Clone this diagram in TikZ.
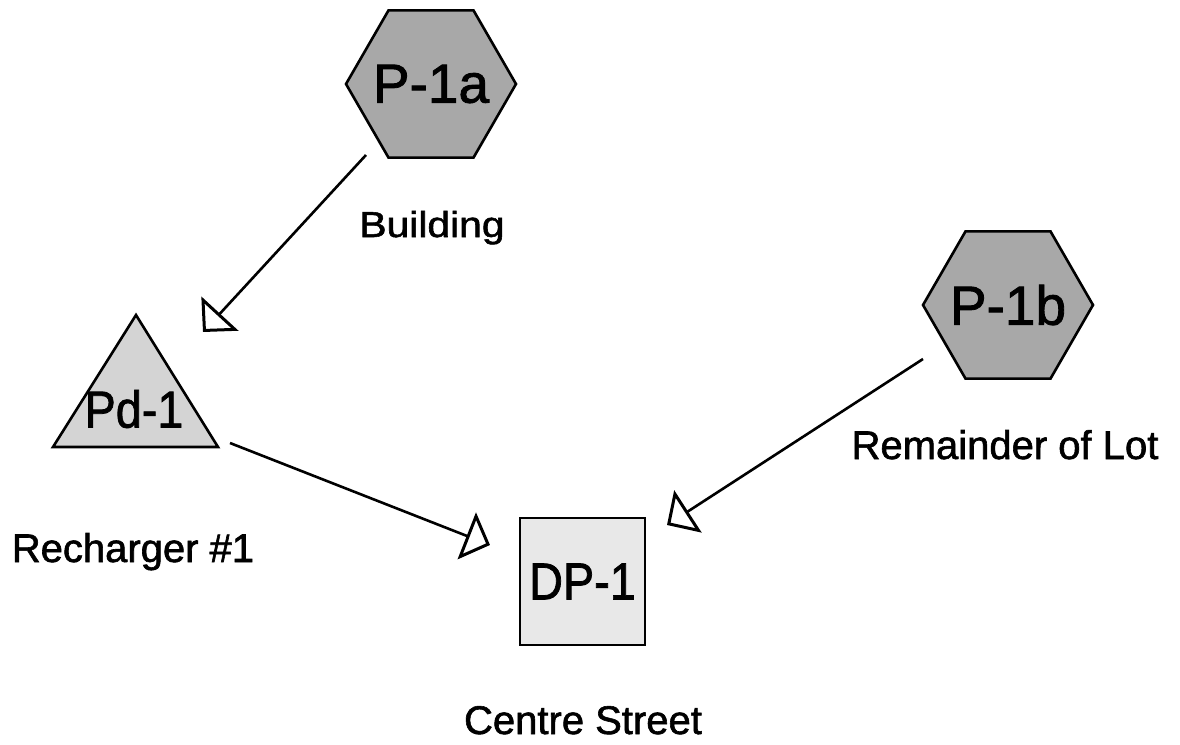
\documentclass[tikz,border=0pt]{standalone}
\usepackage{fontspec}
\setmainfont[FakeBold=1.5]{Liberation Sans}
\usetikzlibrary{arrows.meta,shapes.geometric}

\definecolor{hexgray}{gray}{0.66}
\definecolor{trigray}{gray}{0.83}
\definecolor{boxgray}{gray}{0.91}

\newcommand{\zw}[1]{\makebox[0pt]{#1}}

\begin{document}
\begin{tikzpicture}[x=1pt,y=-1pt,
  hexnode/.style={regular polygon, regular polygon sides=6, minimum size=170pt,
    inner sep=0pt, draw=black, line width=2.6pt, fill=hexgray,
    font=\fontsize{55}{60}\selectfont},
  boxnode/.style={rectangle, minimum width=125pt, minimum height=127pt,
    inner sep=0pt, draw=black, line width=2.6pt, fill=boxgray},
  inlabel/.style={inner sep=0pt, font=\fontsize{52}{58}\selectfont},
  caption/.style={inner sep=0pt, anchor=base, font=\fontsize{40}{46}\selectfont},
  flow/.style={line width=2.6pt,
    -{Triangle[open, length=25pt, width=50pt, line width=3pt]}},
]
\useasboundingbox (0,0) rectangle (1180,744);

% source nodes (the label is given no width, so the polygon keeps its set size)
\node[hexnode] (P1a) at (431,84) {\zw{P-1a}};
\node[hexnode] (P1b) at (1008,305) {\zw{P-1b}};

% recharger: an isosceles triangle drawn round its label
\coordinate (triTop) at (136,315);
\coordinate (triL) at (53,447);
\coordinate (triR) at (218,447);
\filldraw[fill=trigray, draw=black, line width=2.6pt, line join=miter]
  (triTop) -- (triR) -- (triL) -- cycle;
\node[inlabel] (Pd1) at (134,409) {\scalebox{0.9}[1]{Pd-1}};

% discharge point
\node[boxnode] (DP1) at (582.5,581.5) {};
\node[inlabel] (DP1text) at (DP1) {\scalebox{0.9}[1]{DP-1}};

% captions under the nodes
\node[caption] (capA) at (432,237) {\scalebox{1.02}[0.9]{Building}};
\node[caption] (capB) at (1005,459) {Remainder of Lot};
\node[caption] (capPd) at (133,562) {Recharger \#1};
\node[caption] (capDP) at (583,734) {Centre Street};

% connector ends
\coordinate (aStart) at (366,155);
\coordinate (aTip) at (203,332);
\coordinate (bStart) at (230,443);
\coordinate (bTip) at (490,545);
\coordinate (cStart) at (923,359);
\coordinate (cTip) at (667,525);

\draw[flow] (aStart) -- (aTip);
\draw[flow] (bStart) -- (bTip);
\draw[flow] (cStart) -- (cTip);
\end{tikzpicture}
\end{document}
